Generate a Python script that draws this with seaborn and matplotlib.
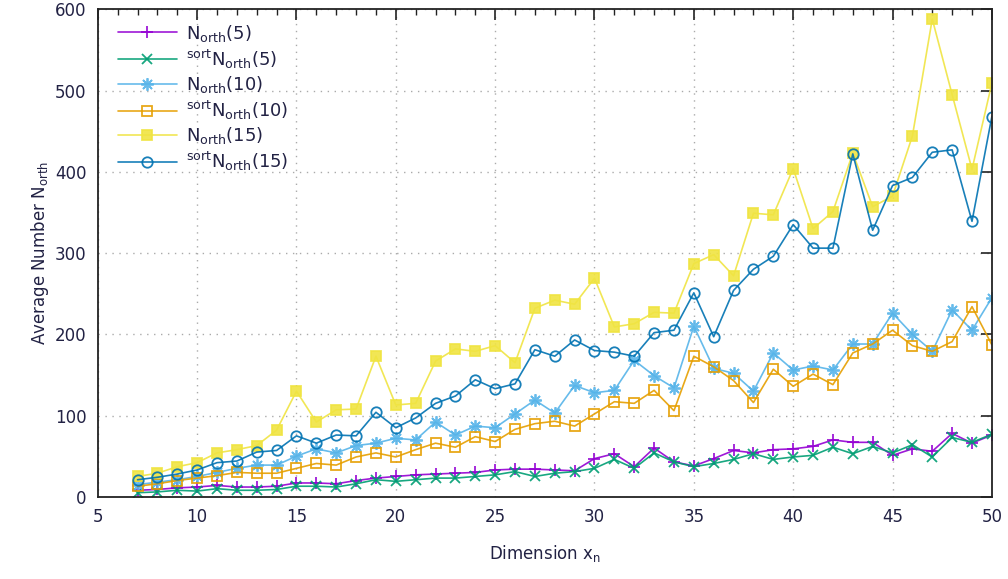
import matplotlib
matplotlib.use("Agg")
import matplotlib.pyplot as plt
import seaborn as sns
from matplotlib.ticker import MultipleLocator

# dimension x_n
dims = [7, 8, 9, 10, 11, 12, 13, 14, 15, 16, 17, 18, 19, 20, 21, 22, 23, 24, 25, 26, 27, 28,
        29, 30, 31, 32, 33, 34, 35, 36, 37, 38, 39, 40, 41, 42, 43, 44, 45, 46, 47, 48, 49, 50]

n_orth_5 = [8, 9, 11, 12, 14, 12, 12, 13, 17, 17, 16, 20, 23, 25, 27, 28, 29, 30, 33, 34, 34, 33,
            32, 47, 53, 37, 60, 43, 38, 47, 57, 54, 58, 59, 62, 70, 67, 67, 51, 59, 56, 78, 66, 76]
sort_n_orth_5 = [5, 6, 8, 7, 10, 8, 8, 9, 13, 13, 12, 16, 21, 19, 21, 23, 23, 25, 27, 31, 25, 29,
                 31, 35, 46, 35, 54, 43, 37, 41, 46, 53, 46, 49, 51, 61, 53, 62, 54, 64, 49, 73, 67, 77]
n_orth_10 = [15, 18, 21, 25, 30, 35, 39, 39, 50, 59, 54, 63, 66, 72, 70, 92, 76, 87, 85, 102, 119, 103,
             137, 128, 131, 168, 149, 134, 210, 158, 152, 130, 177, 156, 161, 156, 188, 188, 226, 200, 179, 230, 205, 245]
sort_n_orth_10 = [13, 16, 20, 23, 26, 30, 29, 29, 35, 41, 39, 49, 54, 49, 58, 66, 61, 74, 68, 83, 90, 93,
                  87, 102, 117, 115, 131, 106, 173, 160, 143, 116, 157, 136, 151, 138, 177, 188, 205, 186, 179, 191, 234, 187]
n_orth_15 = [25, 29, 37, 42, 54, 58, 63, 82, 130, 92, 107, 108, 173, 113, 115, 167, 182, 179, 186, 165, 232, 242,
             237, 269, 209, 213, 227, 226, 287, 298, 272, 349, 347, 404, 330, 351, 423, 357, 370, 444, 588, 495, 403, 509]
sort_n_orth_15 = [21, 24, 28, 33, 42, 44, 55, 57, 75, 66, 76, 75, 104, 85, 97, 115, 124, 144, 133, 139, 181, 173,
                  193, 180, 178, 173, 202, 205, 251, 197, 254, 280, 296, 335, 306, 306, 422, 328, 383, 393, 424, 427, 339, 468]

labels = ["N$_{orth}$(5)", "$^{sort}$N$_{orth}$(5)",
          "N$_{orth}$(10)", "$^{sort}$N$_{orth}$(10)",
          "N$_{orth}$(15)", "$^{sort}$N$_{orth}$(15)"]

sns.set_theme(style="white")
plt.rcParams["font.family"] = ["DejaVu Sans"]
plt.rcParams["mathtext.default"] = "regular"

fig, ax = plt.subplots(figsize=(10.08, 5.79), dpi=100)
fig.subplots_adjust(left=0.097, right=0.984, top=0.984, bottom=0.142)

asterisk = (8, 2, 0)
styles = [
    (n_orth_5, "#9400d3", "+", "#9400d3", 9),
    (sort_n_orth_5, "#009e73", "x", "#009e73", 7),
    (n_orth_10, "#56b4e9", asterisk, "#56b4e9", 9),
    (sort_n_orth_10, "#e69f00", "s", "none", 7),
    (n_orth_15, "#f0e442", "s", "#f0e442", 7),
    (sort_n_orth_15, "#0072b2", "o", "none", 7.5),
]

for (vals, col, mk, fc, ms), lab in zip(styles, labels):
    sns.lineplot(x=dims, y=vals, ax=ax, color=col, marker=mk, markersize=ms,
                 markerfacecolor=fc, markeredgecolor=col, markeredgewidth=1.3,
                 linewidth=1.2, alpha=0.9, label=lab)

ax.set_xlim(5, 50)
ax.set_ylim(0, 600)
ax.xaxis.set_major_locator(MultipleLocator(5))
ax.xaxis.set_minor_locator(MultipleLocator(1))
ax.yaxis.set_major_locator(MultipleLocator(100))
ax.tick_params(which="both", direction="in", top=True, right=True, labelsize=12, colors="#222222")
ax.tick_params(which="major", length=8, width=1.2, pad=8)
ax.tick_params(which="minor", length=4, width=1.0)
ax.tick_params(axis="x", labelcolor="#222244")
ax.tick_params(axis="y", labelcolor="#222244")
for sp in ax.spines.values():
    sp.set_color("#222222")
    sp.set_linewidth(1.3)

ax.grid(True, which="major", linestyle=(0, (1, 4)), color="#aaaaaa", linewidth=1.0)

ax.set_xlabel("Dimension x$_n$", fontsize=12, color="#222244", labelpad=12)
ax.set_ylabel("Average Number N$_{orth}$", fontsize=12, color="#222244", labelpad=3)

leg = ax.legend(loc="upper left", bbox_to_anchor=(0.007, 1.0), frameon=False, fontsize=13,
                handlelength=3.3, handletextpad=0.5, labelspacing=0.2, borderaxespad=0.35)
for t in leg.get_texts():
    t.set_color("#222244")

plt.savefig("out.png", dpi=100)
plt.close()
